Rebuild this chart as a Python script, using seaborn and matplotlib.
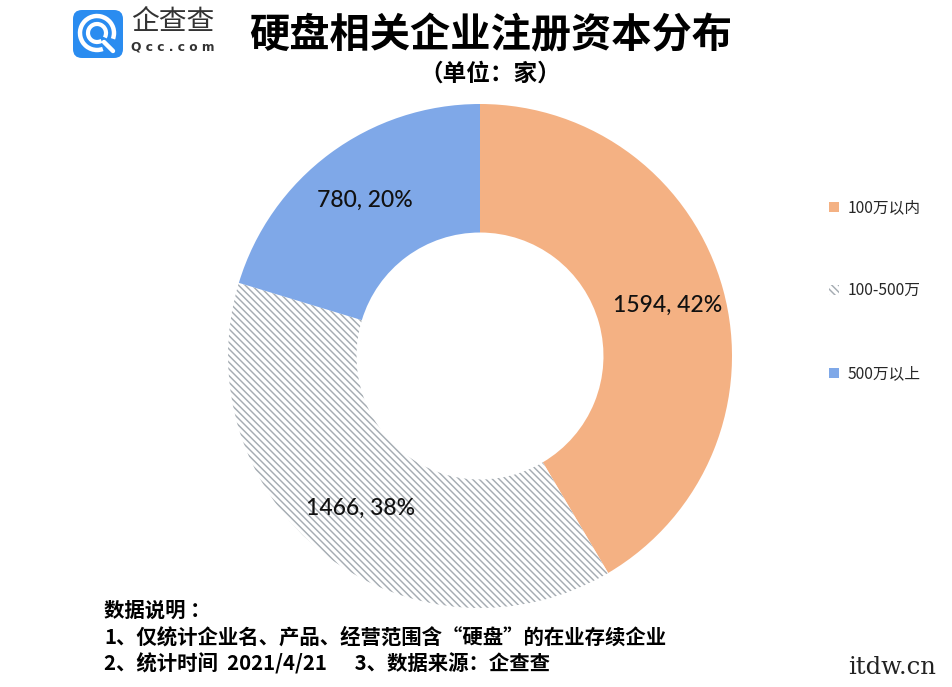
import matplotlib
matplotlib.use("Agg")
import matplotlib.pyplot as plt
from matplotlib.patches import Patch, FancyBboxPatch, Arc
import seaborn as sns

# ---- data ----
categories = ["100万以内", "100-500万", "500万以上"]
values = [1594, 1466, 780]
title = "硬盘相关企业注册资本分布"
subtitle = "（单位：家）"
notes = ["数据说明 ：",
         "1、仅统计企业名、产品、经营范围含“硬盘”的在业存续企业",
         "2、统计时间  2021/4/21      3、数据来源：企查查"]

sns.set_theme(style="white")
plt.rcParams['font.family'] = ['Noto Sans CJK SC', 'DejaVu Sans']
plt.rcParams['hatch.linewidth'] = 1.05

face_colors = ["#F4B183", "#FFFFFF", "#7FA8E8"]
hatch_color = "#A5ACB2"
hatches = [None, "\\\\\\\\\\", None]

W, H = 952, 687
fig = plt.figure(figsize=(W / 100, H / 100), dpi=100)
fig.patch.set_facecolor("white")

# pie axes: centre (480, 356) px, radius 252 px
cx, cy, r = 480, 356, 252
ax = fig.add_axes([(cx - r) / W, (H - cy - r) / H, 2 * r / W, 2 * r / H])
total = sum(values)


def fmt(p):
    v = int(round(p * total / 100.0))
    return f"{v}, {p:.0f}%"


wedges, texts, autotexts = ax.pie(
    values, colors=face_colors, startangle=90, counterclock=False,
    radius=1, autopct=fmt, pctdistance=0.77,
    wedgeprops=dict(width=0.51, linewidth=0),
    textprops=dict(fontsize=16.5, color="#111111", fontweight="medium",
                   family=["Lato", "DejaVu Sans"]))
for w, h in zip(wedges, hatches):
    if h:
        w.set_hatch(h)
        w.set_edgecolor(hatch_color)
        w.set_linewidth(0)
ax.set_xlim(-1, 1)
ax.set_ylim(-1, 1)
ax.set_aspect("equal")
ax.axis("off")

# legend
handles = []
for c, h, lab in zip(face_colors, hatches, categories):
    if h:
        handles.append(Patch(facecolor="white", edgecolor=hatch_color, hatch=h, linewidth=0, label=lab))
    else:
        handles.append(Patch(facecolor=c, edgecolor=c, linewidth=0, label=lab))
leg = fig.legend(handles=handles, loc="upper left", bbox_to_anchor=(823 / W, 1 - 193 / H),
                 frameon=False, fontsize=11.3, handlelength=0.6, handleheight=0.6,
                 handletextpad=0.55, labelspacing=4.2, borderaxespad=0)

# titles
fig.text(491 / W, 1 - 36 / H, title, ha="center", va="center", fontsize=29,
         fontweight="bold", color="#000000")
fig.text(490 / W, 1 - 74 / H, subtitle, ha="center", va="center", fontsize=17,
         fontweight="bold", color="#000000")

# notes
for i, line in enumerate(notes):
    fig.text(104 / W, 1 - (610 + i * 27) / H, line, ha="left", va="center",
             fontsize=14.7, fontweight="bold", color="#000000")

# logo
lax = fig.add_axes([0, 0, 1, 1], facecolor="none")
lax.set_xlim(0, W)
lax.set_ylim(H, 0)
lax.axis("off")
lax.add_patch(FancyBboxPatch((73, 10), 50, 48, boxstyle="round,pad=0,rounding_size=9",
                             facecolor="#2A8CF0", edgecolor="none"))
lax.add_patch(Arc((97, 33), 34, 34, theta1=-290, theta2=20, color="white", lw=3.2))
lax.add_patch(Arc((97, 33), 18, 18, theta1=-300, theta2=30, color="white", lw=3.0))
lax.plot([104, 113], [42, 51], color="white", lw=3.2, solid_capstyle="round")
lax.text(131, 22, "企查查", ha="left", va="center", fontsize=20, color="#333333",
         fontweight="light")
lax.text(131, 47, "Q c c . c o m", ha="left", va="center", fontsize=8.8, color="#333333",
         fontweight="bold", family=["DejaVu Sans"])

# watermark
lax.text(848, 668, "itdw.cn", ha="left", va="center", fontsize=17.5, color="#222222",
         family=["DejaVu Serif"])

fig.savefig("out.png", dpi=100)
